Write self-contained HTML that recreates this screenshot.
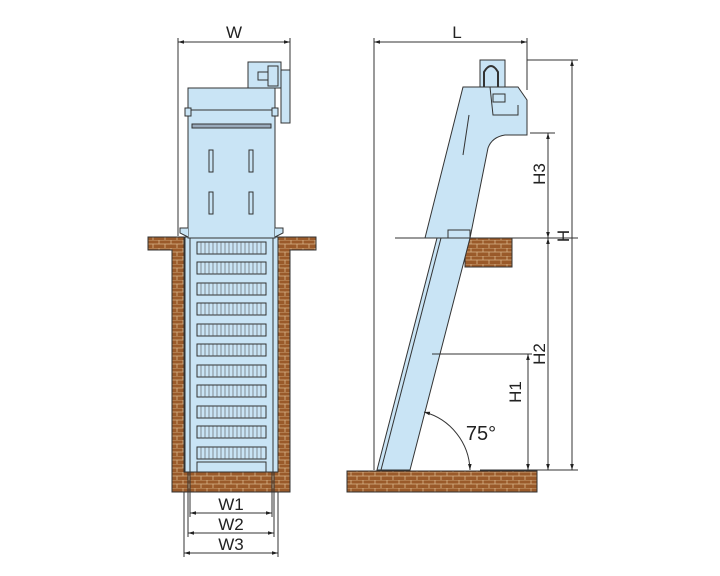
<!DOCTYPE html>
<html><head><style>html,body{margin:0;padding:0;background:#fff}svg{display:block}</style></head>
<body>
<svg width="720" height="576" viewBox="0 0 720 576" xmlns="http://www.w3.org/2000/svg" font-family="Liberation Sans, sans-serif">
<defs>
<pattern id="br" width="12" height="8" patternUnits="userSpaceOnUse">
<rect width="12" height="8" fill="#9a5a2a"/>
<path d="M0 0H12M0 4H12M3 0V4M9 4V8" stroke="#d8b48a" stroke-width="0.8" fill="none"/>
</pattern>
<marker id="a" viewBox="0 0 10 10" refX="10" refY="5" markerWidth="6" markerHeight="6" orient="auto-start-reverse"><path d="M0 2L10 5L0 8z" fill="#222"/></marker>
</defs>
<g stroke="#333" stroke-width="1">
<!-- LEFT VIEW -->
<!-- pit bricks -->
<path d="M148 237H184V472H278V237H316V250H290V492H172V250H148Z" fill="url(#br)"/>
<!-- inner channel -->
<rect x="185" y="237" width="93" height="235" fill="#c9e4f5"/>
<line x1="190" y1="237" x2="190" y2="472"/><line x1="273" y1="237" x2="273" y2="472"/>
<rect x="197" y="462" width="69" height="10" fill="#c9e4f5"/>
<!-- upper body -->
<rect x="188" y="88" width="87" height="150" fill="#c9e4f5"/>
<line x1="188" y1="110" x2="275" y2="110"/>
<rect x="192" y="124" width="79" height="4" fill="#9ab"/>
<rect x="209" y="150" width="4" height="22" fill="none"/><rect x="249" y="150" width="4" height="22" fill="none"/>
<rect x="209" y="192" width="4" height="22" fill="none"/><rect x="249" y="192" width="4" height="22" fill="none"/>
<path d="M188 237L180 233V228H188M275 237L283 233V228H275" fill="#c9e4f5"/>
<!-- motor -->
<rect x="248" y="62" width="33" height="26" fill="#c9e4f5"/>
<rect x="281" y="70" width="9" height="53" fill="#c9e4f5"/>
<rect x="258" y="72" width="10" height="8" fill="#c9e4f5"/>
<rect x="268" y="66" width="10" height="20" fill="#c9e4f5"/>
<rect x="185" y="108" width="6" height="8" fill="#c9e4f5"/><rect x="272" y="108" width="6" height="8" fill="#c9e4f5"/>
<!-- screen rows -->
<g fill="#c9e4f5" stroke="#333">
<rect x="197" y="242" width="69" height="12"/><rect x="197" y="262" width="69" height="12"/>
<rect x="197" y="283" width="69" height="12"/><rect x="197" y="303" width="69" height="12"/>
<rect x="197" y="324" width="69" height="12"/><rect x="197" y="344" width="69" height="12"/>
<rect x="197" y="365" width="69" height="12"/><rect x="197" y="385" width="69" height="12"/>
<rect x="197" y="406" width="69" height="12"/><rect x="197" y="426" width="69" height="12"/>
<rect x="197" y="447" width="69" height="12"/>
</g>
<g stroke="#555" stroke-width="0.6">
<path d="M201 242V459M205 242V459M209 242V459M213 242V459M217 242V459M221 242V459M225 242V459M229 242V459M233 242V459M237 242V459M241 242V459M245 242V459M249 242V459M253 242V459M257 242V459M261 242V459" stroke-dasharray="12 8.5"/>
</g>
<!-- dims left -->
<line x1="178" y1="38" x2="178" y2="236"/><line x1="290" y1="38" x2="290" y2="70"/>
<line x1="178" y1="42" x2="290" y2="42" marker-start="url(#a)" marker-end="url(#a)"/>
<line x1="190" y1="472" x2="190" y2="517"/><line x1="272" y1="472" x2="272" y2="517"/>
<line x1="188" y1="472" x2="188" y2="537"/><line x1="274" y1="472" x2="274" y2="537"/>
<line x1="184" y1="492" x2="184" y2="557"/><line x1="278" y1="492" x2="278" y2="557"/>
<line x1="190" y1="513" x2="272" y2="513" marker-start="url(#a)" marker-end="url(#a)"/>
<line x1="188" y1="533" x2="274" y2="533" marker-start="url(#a)" marker-end="url(#a)"/>
<line x1="184" y1="553" x2="278" y2="553" marker-start="url(#a)" marker-end="url(#a)"/>

<!-- RIGHT VIEW -->
<rect x="347" y="471" width="190" height="21" fill="url(#br)"/>
<rect x="465" y="238" width="47" height="29" fill="url(#br)"/>
<path d="M437 238L377 470H410L470 238Z" fill="#c9e4f5"/>
<path d="M425 238L463 87H518L527 100V135H505Q492 137 488 148L470 238Z" fill="#c9e4f5"/>
<line x1="441" y1="238" x2="381" y2="470"/>
<path d="M469 115L463 155" stroke-width="1"/>
<rect x="480" y="60" width="25" height="27" fill="#c9e4f5"/>
<path d="M484 87V72Q491 60 498 72V87" fill="none" stroke-width="2"/>
<rect x="493" y="94" width="12" height="8" fill="none"/>
<path d="M490 87L493 115H518V105" fill="none"/>
<rect x="448" y="230" width="22" height="8" fill="none"/>
<!-- dims right -->
<line x1="374" y1="38" x2="374" y2="470"/>
<line x1="527" y1="38" x2="527" y2="90"/>
<line x1="374" y1="42" x2="527" y2="42" marker-start="url(#a)" marker-end="url(#a)"/>
<line x1="527" y1="60" x2="578" y2="60"/>
<line x1="395" y1="238" x2="578" y2="238"/>
<line x1="530" y1="133" x2="555" y2="133"/>
<line x1="432" y1="354" x2="532" y2="354"/>
<line x1="480" y1="470" x2="578" y2="470"/>
<line x1="572" y1="60" x2="572" y2="470" marker-start="url(#a)" marker-end="url(#a)"/>
<line x1="548" y1="133" x2="548" y2="238" marker-start="url(#a)" marker-end="url(#a)"/>
<line x1="548" y1="238" x2="548" y2="470" marker-start="url(#a)" marker-end="url(#a)"/>
<line x1="528" y1="354" x2="528" y2="470" marker-start="url(#a)" marker-end="url(#a)"/>
<path d="M424 412A62 62 0 0 1 470 470" fill="none" marker-start="url(#a)" marker-end="url(#a)"/>
</g>
<g font-size="17" fill="#222" text-anchor="middle">
<text x="234" y="38">W</text>
<text x="457" y="38">L</text>
<text x="231" y="510">W1</text>
<text x="231" y="530">W2</text>
<text x="231" y="550">W3</text>
<text x="481" y="440" font-size="20">75°</text>
<text transform="translate(545 174) rotate(-90)">H3</text>
<text transform="translate(569 236) rotate(-90)">H</text>
<text transform="translate(545 354) rotate(-90)">H2</text>
<text transform="translate(521 392) rotate(-90)">H1</text>
</g>
</svg>
</body></html>
